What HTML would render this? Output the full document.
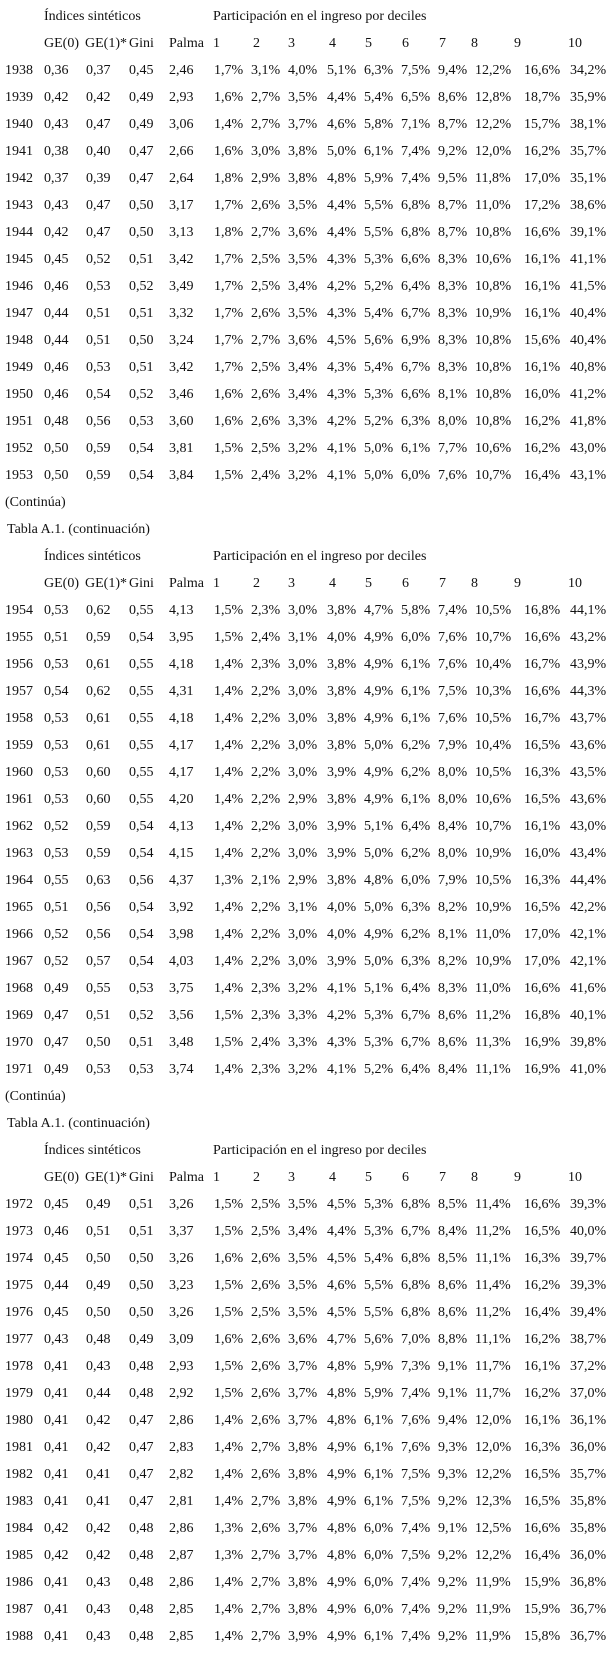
<!DOCTYPE html>
<html><head><meta charset="utf-8"><style>
html,body{margin:0;padding:0;background:#fff;}
body{width:613px;height:1655px;overflow:hidden;font-family:"Liberation Serif",serif;font-size:14px;color:#111;padding-top:3px;box-sizing:border-box;}
.r{position:relative;height:27px;line-height:27px;white-space:nowrap;}
.r span{position:absolute;top:0;}
.r span:nth-child(1){left:5px}
.r span:nth-child(2){left:44px}
.r span:nth-child(3){left:86px}
.r span:nth-child(4){left:129px}
.r span:nth-child(5){left:169px}
.r span:nth-child(6){left:214px}
.r span:nth-child(7){left:251px}
.r span:nth-child(8){left:288px}
.r span:nth-child(9){left:327px}
.r span:nth-child(10){left:364px}
.r span:nth-child(11){left:401px}
.r span:nth-child(12){left:438px}
.r span:nth-child(13){left:475px}
.r span:nth-child(14){left:524px}
.r span:nth-child(15){left:570px}
.h span:nth-child(1){left:44px}
.h span:nth-child(2){left:85px}
.h span:nth-child(3){left:129px}
.h span:nth-child(4){left:169px}
.h span:nth-child(5){left:213px}
.h span:nth-child(6){left:253px}
.h span:nth-child(7){left:288px}
.h span:nth-child(8){left:329px}
.h span:nth-child(9){left:365px}
.h span:nth-child(10){left:402px}
.h span:nth-child(11){left:439px}
.h span:nth-child(12){left:471px}
.h span:nth-child(13){left:514px}
.h span:nth-child(14){left:568px}
.t span:nth-child(1){left:44px}
.t span:nth-child(2){left:213px}
.p{height:27px;line-height:27px;padding-left:5px;}
.p2{height:27px;line-height:27px;padding-left:7px;}
</style></head><body>
<div class="r t"><span>Índices sintéticos</span><span>Participación en el ingreso por deciles</span></div>
<div class="r h"><span>GE(0)</span><span>GE(1)*</span><span>Gini</span><span>Palma</span><span>1</span><span>2</span><span>3</span><span>4</span><span>5</span><span>6</span><span>7</span><span>8</span><span>9</span><span>10</span></div>
<div class="r"><span>1938</span><span>0,36</span><span>0,37</span><span>0,45</span><span>2,46</span><span>1,7%</span><span>3,1%</span><span>4,0%</span><span>5,1%</span><span>6,3%</span><span>7,5%</span><span>9,4%</span><span>12,2%</span><span>16,6%</span><span>34,2%</span></div>
<div class="r"><span>1939</span><span>0,42</span><span>0,42</span><span>0,49</span><span>2,93</span><span>1,6%</span><span>2,7%</span><span>3,5%</span><span>4,4%</span><span>5,4%</span><span>6,5%</span><span>8,6%</span><span>12,8%</span><span>18,7%</span><span>35,9%</span></div>
<div class="r"><span>1940</span><span>0,43</span><span>0,47</span><span>0,49</span><span>3,06</span><span>1,4%</span><span>2,7%</span><span>3,7%</span><span>4,6%</span><span>5,8%</span><span>7,1%</span><span>8,7%</span><span>12,2%</span><span>15,7%</span><span>38,1%</span></div>
<div class="r"><span>1941</span><span>0,38</span><span>0,40</span><span>0,47</span><span>2,66</span><span>1,6%</span><span>3,0%</span><span>3,8%</span><span>5,0%</span><span>6,1%</span><span>7,4%</span><span>9,2%</span><span>12,0%</span><span>16,2%</span><span>35,7%</span></div>
<div class="r"><span>1942</span><span>0,37</span><span>0,39</span><span>0,47</span><span>2,64</span><span>1,8%</span><span>2,9%</span><span>3,8%</span><span>4,8%</span><span>5,9%</span><span>7,4%</span><span>9,5%</span><span>11,8%</span><span>17,0%</span><span>35,1%</span></div>
<div class="r"><span>1943</span><span>0,43</span><span>0,47</span><span>0,50</span><span>3,17</span><span>1,7%</span><span>2,6%</span><span>3,5%</span><span>4,4%</span><span>5,5%</span><span>6,8%</span><span>8,7%</span><span>11,0%</span><span>17,2%</span><span>38,6%</span></div>
<div class="r"><span>1944</span><span>0,42</span><span>0,47</span><span>0,50</span><span>3,13</span><span>1,8%</span><span>2,7%</span><span>3,6%</span><span>4,4%</span><span>5,5%</span><span>6,8%</span><span>8,7%</span><span>10,8%</span><span>16,6%</span><span>39,1%</span></div>
<div class="r"><span>1945</span><span>0,45</span><span>0,52</span><span>0,51</span><span>3,42</span><span>1,7%</span><span>2,5%</span><span>3,5%</span><span>4,3%</span><span>5,3%</span><span>6,6%</span><span>8,3%</span><span>10,6%</span><span>16,1%</span><span>41,1%</span></div>
<div class="r"><span>1946</span><span>0,46</span><span>0,53</span><span>0,52</span><span>3,49</span><span>1,7%</span><span>2,5%</span><span>3,4%</span><span>4,2%</span><span>5,2%</span><span>6,4%</span><span>8,3%</span><span>10,8%</span><span>16,1%</span><span>41,5%</span></div>
<div class="r"><span>1947</span><span>0,44</span><span>0,51</span><span>0,51</span><span>3,32</span><span>1,7%</span><span>2,6%</span><span>3,5%</span><span>4,3%</span><span>5,4%</span><span>6,7%</span><span>8,3%</span><span>10,9%</span><span>16,1%</span><span>40,4%</span></div>
<div class="r"><span>1948</span><span>0,44</span><span>0,51</span><span>0,50</span><span>3,24</span><span>1,7%</span><span>2,7%</span><span>3,6%</span><span>4,5%</span><span>5,6%</span><span>6,9%</span><span>8,3%</span><span>10,8%</span><span>15,6%</span><span>40,4%</span></div>
<div class="r"><span>1949</span><span>0,46</span><span>0,53</span><span>0,51</span><span>3,42</span><span>1,7%</span><span>2,5%</span><span>3,4%</span><span>4,3%</span><span>5,4%</span><span>6,7%</span><span>8,3%</span><span>10,8%</span><span>16,1%</span><span>40,8%</span></div>
<div class="r"><span>1950</span><span>0,46</span><span>0,54</span><span>0,52</span><span>3,46</span><span>1,6%</span><span>2,6%</span><span>3,4%</span><span>4,3%</span><span>5,3%</span><span>6,6%</span><span>8,1%</span><span>10,8%</span><span>16,0%</span><span>41,2%</span></div>
<div class="r"><span>1951</span><span>0,48</span><span>0,56</span><span>0,53</span><span>3,60</span><span>1,6%</span><span>2,6%</span><span>3,3%</span><span>4,2%</span><span>5,2%</span><span>6,3%</span><span>8,0%</span><span>10,8%</span><span>16,2%</span><span>41,8%</span></div>
<div class="r"><span>1952</span><span>0,50</span><span>0,59</span><span>0,54</span><span>3,81</span><span>1,5%</span><span>2,5%</span><span>3,2%</span><span>4,1%</span><span>5,0%</span><span>6,1%</span><span>7,7%</span><span>10,6%</span><span>16,2%</span><span>43,0%</span></div>
<div class="r"><span>1953</span><span>0,50</span><span>0,59</span><span>0,54</span><span>3,84</span><span>1,5%</span><span>2,4%</span><span>3,2%</span><span>4,1%</span><span>5,0%</span><span>6,0%</span><span>7,6%</span><span>10,7%</span><span>16,4%</span><span>43,1%</span></div>
<div class="p">(Continúa)</div>
<div class="p2">Tabla A.1. (continuación)</div>
<div class="r t"><span>Índices sintéticos</span><span>Participación en el ingreso por deciles</span></div>
<div class="r h"><span>GE(0)</span><span>GE(1)*</span><span>Gini</span><span>Palma</span><span>1</span><span>2</span><span>3</span><span>4</span><span>5</span><span>6</span><span>7</span><span>8</span><span>9</span><span>10</span></div>
<div class="r"><span>1954</span><span>0,53</span><span>0,62</span><span>0,55</span><span>4,13</span><span>1,5%</span><span>2,3%</span><span>3,0%</span><span>3,8%</span><span>4,7%</span><span>5,8%</span><span>7,4%</span><span>10,5%</span><span>16,8%</span><span>44,1%</span></div>
<div class="r"><span>1955</span><span>0,51</span><span>0,59</span><span>0,54</span><span>3,95</span><span>1,5%</span><span>2,4%</span><span>3,1%</span><span>4,0%</span><span>4,9%</span><span>6,0%</span><span>7,6%</span><span>10,7%</span><span>16,6%</span><span>43,2%</span></div>
<div class="r"><span>1956</span><span>0,53</span><span>0,61</span><span>0,55</span><span>4,18</span><span>1,4%</span><span>2,3%</span><span>3,0%</span><span>3,8%</span><span>4,9%</span><span>6,1%</span><span>7,6%</span><span>10,4%</span><span>16,7%</span><span>43,9%</span></div>
<div class="r"><span>1957</span><span>0,54</span><span>0,62</span><span>0,55</span><span>4,31</span><span>1,4%</span><span>2,2%</span><span>3,0%</span><span>3,8%</span><span>4,9%</span><span>6,1%</span><span>7,5%</span><span>10,3%</span><span>16,6%</span><span>44,3%</span></div>
<div class="r"><span>1958</span><span>0,53</span><span>0,61</span><span>0,55</span><span>4,18</span><span>1,4%</span><span>2,2%</span><span>3,0%</span><span>3,8%</span><span>4,9%</span><span>6,1%</span><span>7,6%</span><span>10,5%</span><span>16,7%</span><span>43,7%</span></div>
<div class="r"><span>1959</span><span>0,53</span><span>0,61</span><span>0,55</span><span>4,17</span><span>1,4%</span><span>2,2%</span><span>3,0%</span><span>3,8%</span><span>5,0%</span><span>6,2%</span><span>7,9%</span><span>10,4%</span><span>16,5%</span><span>43,6%</span></div>
<div class="r"><span>1960</span><span>0,53</span><span>0,60</span><span>0,55</span><span>4,17</span><span>1,4%</span><span>2,2%</span><span>3,0%</span><span>3,9%</span><span>4,9%</span><span>6,2%</span><span>8,0%</span><span>10,5%</span><span>16,3%</span><span>43,5%</span></div>
<div class="r"><span>1961</span><span>0,53</span><span>0,60</span><span>0,55</span><span>4,20</span><span>1,4%</span><span>2,2%</span><span>2,9%</span><span>3,8%</span><span>4,9%</span><span>6,1%</span><span>8,0%</span><span>10,6%</span><span>16,5%</span><span>43,6%</span></div>
<div class="r"><span>1962</span><span>0,52</span><span>0,59</span><span>0,54</span><span>4,13</span><span>1,4%</span><span>2,2%</span><span>3,0%</span><span>3,9%</span><span>5,1%</span><span>6,4%</span><span>8,4%</span><span>10,7%</span><span>16,1%</span><span>43,0%</span></div>
<div class="r"><span>1963</span><span>0,53</span><span>0,59</span><span>0,54</span><span>4,15</span><span>1,4%</span><span>2,2%</span><span>3,0%</span><span>3,9%</span><span>5,0%</span><span>6,2%</span><span>8,0%</span><span>10,9%</span><span>16,0%</span><span>43,4%</span></div>
<div class="r"><span>1964</span><span>0,55</span><span>0,63</span><span>0,56</span><span>4,37</span><span>1,3%</span><span>2,1%</span><span>2,9%</span><span>3,8%</span><span>4,8%</span><span>6,0%</span><span>7,9%</span><span>10,5%</span><span>16,3%</span><span>44,4%</span></div>
<div class="r"><span>1965</span><span>0,51</span><span>0,56</span><span>0,54</span><span>3,92</span><span>1,4%</span><span>2,2%</span><span>3,1%</span><span>4,0%</span><span>5,0%</span><span>6,3%</span><span>8,2%</span><span>10,9%</span><span>16,5%</span><span>42,2%</span></div>
<div class="r"><span>1966</span><span>0,52</span><span>0,56</span><span>0,54</span><span>3,98</span><span>1,4%</span><span>2,2%</span><span>3,0%</span><span>4,0%</span><span>4,9%</span><span>6,2%</span><span>8,1%</span><span>11,0%</span><span>17,0%</span><span>42,1%</span></div>
<div class="r"><span>1967</span><span>0,52</span><span>0,57</span><span>0,54</span><span>4,03</span><span>1,4%</span><span>2,2%</span><span>3,0%</span><span>3,9%</span><span>5,0%</span><span>6,3%</span><span>8,2%</span><span>10,9%</span><span>17,0%</span><span>42,1%</span></div>
<div class="r"><span>1968</span><span>0,49</span><span>0,55</span><span>0,53</span><span>3,75</span><span>1,4%</span><span>2,3%</span><span>3,2%</span><span>4,1%</span><span>5,1%</span><span>6,4%</span><span>8,3%</span><span>11,0%</span><span>16,6%</span><span>41,6%</span></div>
<div class="r"><span>1969</span><span>0,47</span><span>0,51</span><span>0,52</span><span>3,56</span><span>1,5%</span><span>2,3%</span><span>3,3%</span><span>4,2%</span><span>5,3%</span><span>6,7%</span><span>8,6%</span><span>11,2%</span><span>16,8%</span><span>40,1%</span></div>
<div class="r"><span>1970</span><span>0,47</span><span>0,50</span><span>0,51</span><span>3,48</span><span>1,5%</span><span>2,4%</span><span>3,3%</span><span>4,3%</span><span>5,3%</span><span>6,7%</span><span>8,6%</span><span>11,3%</span><span>16,9%</span><span>39,8%</span></div>
<div class="r"><span>1971</span><span>0,49</span><span>0,53</span><span>0,53</span><span>3,74</span><span>1,4%</span><span>2,3%</span><span>3,2%</span><span>4,1%</span><span>5,2%</span><span>6,4%</span><span>8,4%</span><span>11,1%</span><span>16,9%</span><span>41,0%</span></div>
<div class="p">(Continúa)</div>
<div class="p2">Tabla A.1. (continuación)</div>
<div class="r t"><span>Índices sintéticos</span><span>Participación en el ingreso por deciles</span></div>
<div class="r h"><span>GE(0)</span><span>GE(1)*</span><span>Gini</span><span>Palma</span><span>1</span><span>2</span><span>3</span><span>4</span><span>5</span><span>6</span><span>7</span><span>8</span><span>9</span><span>10</span></div>
<div class="r"><span>1972</span><span>0,45</span><span>0,49</span><span>0,51</span><span>3,26</span><span>1,5%</span><span>2,5%</span><span>3,5%</span><span>4,5%</span><span>5,3%</span><span>6,8%</span><span>8,5%</span><span>11,4%</span><span>16,6%</span><span>39,3%</span></div>
<div class="r"><span>1973</span><span>0,46</span><span>0,51</span><span>0,51</span><span>3,37</span><span>1,5%</span><span>2,5%</span><span>3,4%</span><span>4,4%</span><span>5,3%</span><span>6,7%</span><span>8,4%</span><span>11,2%</span><span>16,5%</span><span>40,0%</span></div>
<div class="r"><span>1974</span><span>0,45</span><span>0,50</span><span>0,50</span><span>3,26</span><span>1,6%</span><span>2,6%</span><span>3,5%</span><span>4,5%</span><span>5,4%</span><span>6,8%</span><span>8,5%</span><span>11,1%</span><span>16,3%</span><span>39,7%</span></div>
<div class="r"><span>1975</span><span>0,44</span><span>0,49</span><span>0,50</span><span>3,23</span><span>1,5%</span><span>2,6%</span><span>3,5%</span><span>4,6%</span><span>5,5%</span><span>6,8%</span><span>8,6%</span><span>11,4%</span><span>16,2%</span><span>39,3%</span></div>
<div class="r"><span>1976</span><span>0,45</span><span>0,50</span><span>0,50</span><span>3,26</span><span>1,5%</span><span>2,5%</span><span>3,5%</span><span>4,5%</span><span>5,5%</span><span>6,8%</span><span>8,6%</span><span>11,2%</span><span>16,4%</span><span>39,4%</span></div>
<div class="r"><span>1977</span><span>0,43</span><span>0,48</span><span>0,49</span><span>3,09</span><span>1,6%</span><span>2,6%</span><span>3,6%</span><span>4,7%</span><span>5,6%</span><span>7,0%</span><span>8,8%</span><span>11,1%</span><span>16,2%</span><span>38,7%</span></div>
<div class="r"><span>1978</span><span>0,41</span><span>0,43</span><span>0,48</span><span>2,93</span><span>1,5%</span><span>2,6%</span><span>3,7%</span><span>4,8%</span><span>5,9%</span><span>7,3%</span><span>9,1%</span><span>11,7%</span><span>16,1%</span><span>37,2%</span></div>
<div class="r"><span>1979</span><span>0,41</span><span>0,44</span><span>0,48</span><span>2,92</span><span>1,5%</span><span>2,6%</span><span>3,7%</span><span>4,8%</span><span>5,9%</span><span>7,4%</span><span>9,1%</span><span>11,7%</span><span>16,2%</span><span>37,0%</span></div>
<div class="r"><span>1980</span><span>0,41</span><span>0,42</span><span>0,47</span><span>2,86</span><span>1,4%</span><span>2,6%</span><span>3,7%</span><span>4,8%</span><span>6,1%</span><span>7,6%</span><span>9,4%</span><span>12,0%</span><span>16,1%</span><span>36,1%</span></div>
<div class="r"><span>1981</span><span>0,41</span><span>0,42</span><span>0,47</span><span>2,83</span><span>1,4%</span><span>2,7%</span><span>3,8%</span><span>4,9%</span><span>6,1%</span><span>7,6%</span><span>9,3%</span><span>12,0%</span><span>16,3%</span><span>36,0%</span></div>
<div class="r"><span>1982</span><span>0,41</span><span>0,41</span><span>0,47</span><span>2,82</span><span>1,4%</span><span>2,6%</span><span>3,8%</span><span>4,9%</span><span>6,1%</span><span>7,5%</span><span>9,3%</span><span>12,2%</span><span>16,5%</span><span>35,7%</span></div>
<div class="r"><span>1983</span><span>0,41</span><span>0,41</span><span>0,47</span><span>2,81</span><span>1,4%</span><span>2,7%</span><span>3,8%</span><span>4,9%</span><span>6,1%</span><span>7,5%</span><span>9,2%</span><span>12,3%</span><span>16,5%</span><span>35,8%</span></div>
<div class="r"><span>1984</span><span>0,42</span><span>0,42</span><span>0,48</span><span>2,86</span><span>1,3%</span><span>2,6%</span><span>3,7%</span><span>4,8%</span><span>6,0%</span><span>7,4%</span><span>9,1%</span><span>12,5%</span><span>16,6%</span><span>35,8%</span></div>
<div class="r"><span>1985</span><span>0,42</span><span>0,42</span><span>0,48</span><span>2,87</span><span>1,3%</span><span>2,7%</span><span>3,7%</span><span>4,8%</span><span>6,0%</span><span>7,5%</span><span>9,2%</span><span>12,2%</span><span>16,4%</span><span>36,0%</span></div>
<div class="r"><span>1986</span><span>0,41</span><span>0,43</span><span>0,48</span><span>2,86</span><span>1,4%</span><span>2,7%</span><span>3,8%</span><span>4,9%</span><span>6,0%</span><span>7,4%</span><span>9,2%</span><span>11,9%</span><span>15,9%</span><span>36,8%</span></div>
<div class="r"><span>1987</span><span>0,41</span><span>0,43</span><span>0,48</span><span>2,85</span><span>1,4%</span><span>2,7%</span><span>3,8%</span><span>4,9%</span><span>6,0%</span><span>7,4%</span><span>9,2%</span><span>11,9%</span><span>15,9%</span><span>36,7%</span></div>
<div class="r"><span>1988</span><span>0,41</span><span>0,43</span><span>0,48</span><span>2,85</span><span>1,4%</span><span>2,7%</span><span>3,9%</span><span>4,9%</span><span>6,1%</span><span>7,4%</span><span>9,2%</span><span>11,9%</span><span>15,8%</span><span>36,7%</span></div>
</body></html>
